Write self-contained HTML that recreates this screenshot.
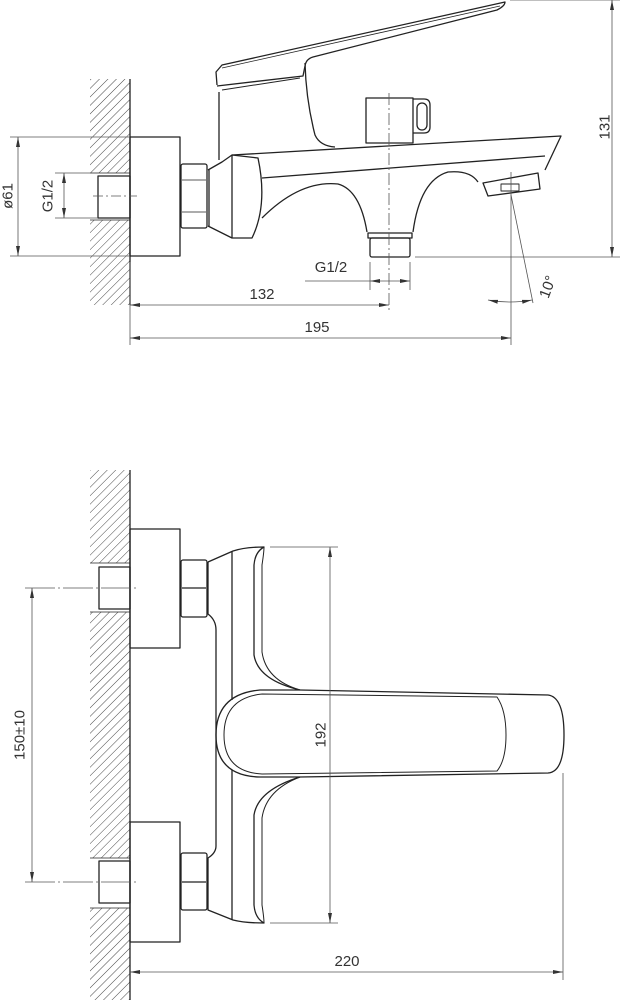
<!DOCTYPE html>
<html><head><meta charset="utf-8"><style>
html,body{margin:0;padding:0;background:#fff}
svg{display:block}
text{font-family:"Liberation Sans",sans-serif;font-size:15px;fill:#333}
</style></head><body>
<svg width="624" height="1000" viewBox="0 0 624 1000" xmlns="http://www.w3.org/2000/svg">
<defs>
<pattern id="h" patternUnits="userSpaceOnUse" width="6" height="6" patternTransform="rotate(45)">
<line x1="0" y1="0" x2="0" y2="6" stroke="#333" stroke-width="0.9"/>
</pattern>
<marker id="a" viewBox="0 0 10 6" refX="10" refY="3" markerWidth="10" markerHeight="6" orient="auto-start-reverse" markerUnits="userSpaceOnUse">
<path d="M0,1 L10,3 L0,5 z" fill="#333"/>
</marker>
</defs>

<!-- ===== TOP VIEW ===== -->
<g>
<rect x="90" y="79" width="40" height="94" fill="url(#h)"/>
<rect x="90" y="220" width="40" height="85" fill="url(#h)"/>
<line x1="130" y1="79" x2="130" y2="305" stroke="#222" stroke-width="1.3"/>
</g>
<g fill="none" stroke="#222" stroke-width="1.3" stroke-linejoin="round">
<line x1="90" y1="173" x2="130" y2="173" stroke-width="0.8"/>
<line x1="90" y1="220" x2="130" y2="220" stroke-width="0.8"/>
<rect x="98" y="176" width="32" height="42"/>
<rect x="130" y="137" width="50" height="119"/>
<rect x="181" y="164" width="26" height="64" rx="2"/>
<line x1="182" y1="180" x2="206" y2="180" stroke-width="0.8"/>
<line x1="182" y1="212" x2="206" y2="212" stroke-width="0.8"/>
<path d="M208,170 L222,162 L232,155 M208,226 L222,233 L232,238"/>
<line x1="209" y1="170" x2="209" y2="226"/>
<path d="M232,155 L232,238 L252,238 Q268,205 258,158 Z"/>
<path d="M232,155 L561,136 L545,170"/>
<path d="M262,178 L545,156"/>
<path d="M262,218 Q300,180 338,184 Q360,190 367,232"/>
<path d="M413,232 Q420,180 448,172 Q470,170 478,182"/>
<rect x="368" y="233" width="44" height="5"/>
<rect x="370" y="238" width="40" height="19" rx="2"/>
<path d="M483,183 L538,173 L540,189 L488,196 Z"/>
<rect x="501" y="184" width="18" height="7" stroke-width="0.9"/>
<rect x="366" y="98" width="47" height="45"/>
<path d="M413,99 L424,99 Q430,99 430,105 L430,127 Q430,133 424,133 L413,133"/>
<rect x="417" y="103" width="10" height="27" rx="5"/>
<path d="M219,92 L219,160 M305,63 Q306,100 315,135 Q320,146 335,147"/>
<path d="M217,85 L216,72 L222,65 L505,2 Q505,6 497,10 L313,57 Q306,59 305,66 L303,76 L217,86"/>
<line x1="222" y1="68" x2="500" y2="6" stroke-width="0.8"/>
<path d="M222,90 L300,78" stroke-width="1"/>
</g>
<g fill="none" stroke="#555" stroke-width="0.8">
<line x1="93" y1="196" x2="137" y2="196" stroke-dasharray="10,3,2,3"/>
<line x1="389" y1="93" x2="389" y2="313" stroke-dasharray="12,3,2,3"/>
<line x1="10" y1="137" x2="130" y2="137"/>
<line x1="10" y1="256" x2="130" y2="256"/>
<line x1="18" y1="137" x2="18" y2="256" marker-start="url(#a)" marker-end="url(#a)"/>
<line x1="55" y1="173" x2="98" y2="173"/>
<line x1="55" y1="218" x2="98" y2="218"/>
<line x1="64" y1="173" x2="64" y2="218" marker-start="url(#a)" marker-end="url(#a)"/>
<line x1="510" y1="0" x2="620" y2="0"/>
<line x1="415" y1="257" x2="620" y2="257"/>
<line x1="612" y1="0" x2="612" y2="257" marker-start="url(#a)" marker-end="url(#a)"/>
<line x1="370" y1="262" x2="370" y2="290"/>
<line x1="410" y1="262" x2="410" y2="290"/>
<line x1="305" y1="281" x2="370" y2="281"/>
<line x1="370" y1="281" x2="410" y2="281" marker-start="url(#a)" marker-end="url(#a)"/>
<line x1="130" y1="262" x2="130" y2="345"/>
<line x1="130" y1="305" x2="389" y2="305" marker-start="url(#a)" marker-end="url(#a)"/>
<line x1="130" y1="338" x2="511" y2="338" marker-start="url(#a)" marker-end="url(#a)"/>
<line x1="511" y1="172" x2="511" y2="345"/>
<line x1="511" y1="195" x2="533" y2="303"/>
<path d="M488,300 Q510,304 532,300" marker-start="url(#a)" marker-end="url(#a)"/>
</g>
<text x="8" y="196" transform="rotate(-90 8 196)" text-anchor="middle" dominant-baseline="central">ø61</text>
<text x="48" y="196" transform="rotate(-90 48 196)" text-anchor="middle" dominant-baseline="central">G1/2</text>
<text x="605" y="127" transform="rotate(-90 605 127)" text-anchor="middle" dominant-baseline="central">131</text>
<text x="331" y="272" text-anchor="middle">G1/2</text>
<text x="262" y="299" text-anchor="middle">132</text>
<text x="317" y="332" text-anchor="middle">195</text>
<text x="548" y="287" transform="rotate(-70 548 287)" text-anchor="middle" dominant-baseline="central">10°</text>

<!-- ===== BOTTOM VIEW ===== -->
<rect x="90" y="470" width="40" height="93" fill="url(#h)"/>
<rect x="90" y="612" width="40" height="246" fill="url(#h)"/>
<rect x="90" y="908" width="40" height="92" fill="url(#h)"/>
<line x1="130" y1="470" x2="130" y2="1000" stroke="#222" stroke-width="1.3"/>
<g fill="none" stroke="#222" stroke-width="1.3" stroke-linejoin="round">
<line x1="90" y1="563" x2="130" y2="563" stroke-width="0.8"/>
<line x1="90" y1="612" x2="130" y2="612" stroke-width="0.8"/>
<line x1="90" y1="858" x2="130" y2="858" stroke-width="0.8"/>
<line x1="90" y1="908" x2="130" y2="908" stroke-width="0.8"/>
<rect x="99" y="567" width="31" height="42"/>
<rect x="99" y="861" width="31" height="42"/>
<rect x="130" y="529" width="50" height="119"/>
<rect x="130" y="822" width="50" height="120"/>
<rect x="181" y="560" width="26" height="57" rx="2"/>
<line x1="182" y1="588" x2="206" y2="588"/>
<rect x="181" y="853" width="26" height="57" rx="2"/>
<line x1="182" y1="882" x2="206" y2="882"/>
<path d="M208,562 L233,551 Q245,547 264,547 Q255,552 254,565 L254,655 Q258,680 300,690"/>
<path d="M208,562 L208,614 Q216,620 216,630 L216,846 Q216,853 208,858 L208,910 L233,920 Q245,923 264,923 Q255,918 254,905 L254,815 Q258,790 300,777"/>
<path d="M264,547 Q264,552 262,565 L262,652 Q266,680 300,690 M264,923 Q264,918 262,905 L262,818 Q266,790 300,777" stroke-width="1"/>
<line x1="232" y1="551" x2="232" y2="700"/>
<line x1="232" y1="770" x2="232" y2="920"/>
<path d="M300,690 L548,695 Q564,697 564,735 Q564,772 548,773 L300,777"/>
<path d="M300,690 L260,690 Q216,694 216,735 Q216,776 260,777 L300,777"/>
<path d="M262,694 Q224,698 224,735 Q224,772 262,774 L497,771 Q506,760 506,735 Q506,710 497,697 L262,694" stroke-width="1"/>
</g>
<g fill="none" stroke="#555" stroke-width="0.8">
<line x1="25" y1="588" x2="137" y2="588" stroke-dasharray="30,3,2,3"/>
<line x1="25" y1="882" x2="137" y2="882" stroke-dasharray="30,3,2,3"/>
<line x1="32" y1="588" x2="32" y2="882" marker-start="url(#a)" marker-end="url(#a)"/>
<line x1="270" y1="547" x2="338" y2="547"/>
<line x1="270" y1="923" x2="338" y2="923"/>
<line x1="330" y1="547" x2="330" y2="923" marker-start="url(#a)" marker-end="url(#a)"/>
<line x1="563" y1="773" x2="563" y2="980"/>
<line x1="130" y1="972" x2="563" y2="972" marker-start="url(#a)" marker-end="url(#a)"/>
</g>
<text x="20" y="735" transform="rotate(-90 20 735)" text-anchor="middle" dominant-baseline="central">150±10</text>
<text x="321" y="735" transform="rotate(-90 321 735)" text-anchor="middle" dominant-baseline="central">192</text>
<text x="347" y="966" text-anchor="middle">220</text>
</svg>
</body></html>
